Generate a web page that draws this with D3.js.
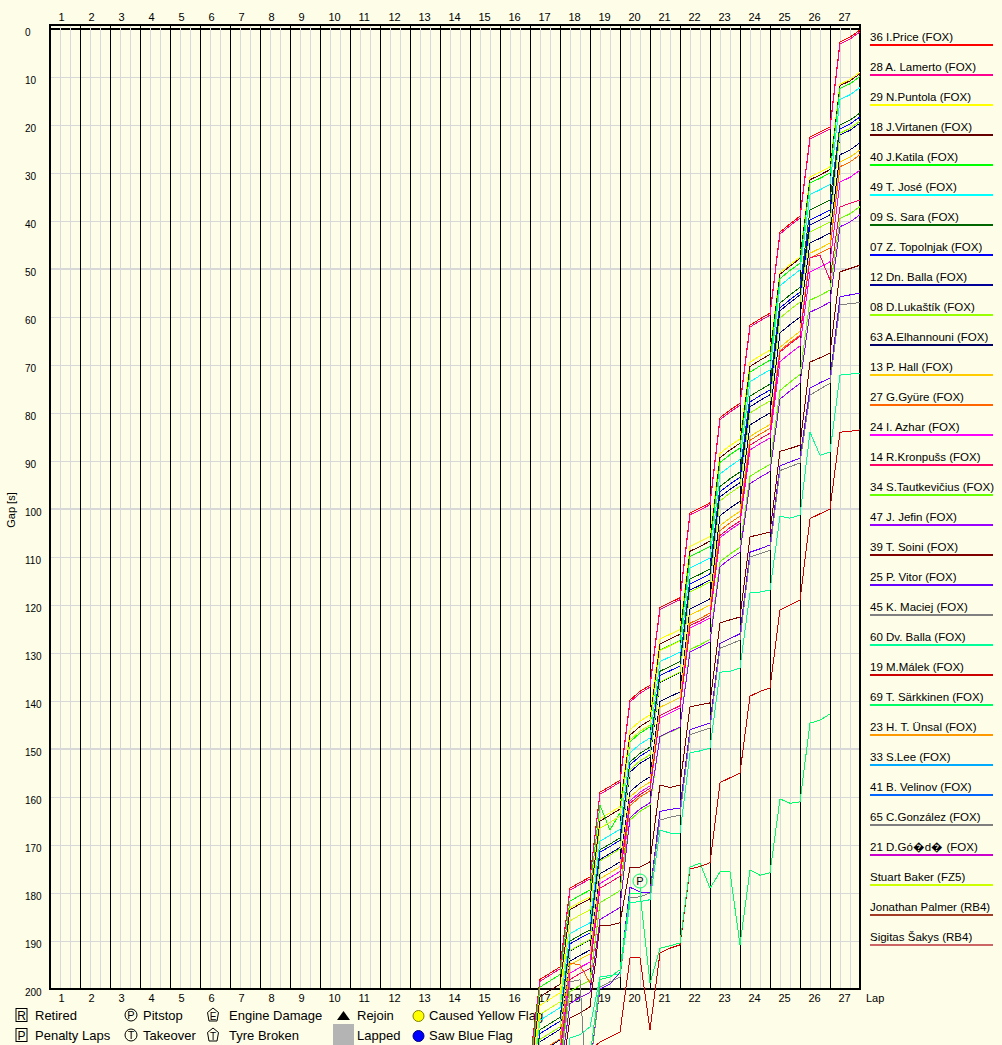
<!DOCTYPE html>
<html><head><meta charset="utf-8">
<script src="https://cdn.jsdelivr.net/npm/d3@7"></script>
<style>
html,body{margin:0;padding:0;background:#fefee8;}
svg{display:block;}
text{font-family:"Liberation Sans",Arial,sans-serif;fill:#000;}
</style></head><body>
<svg id="chart" width="1002" height="1045"></svg>
<script>
// ---------- tick labels ----------
const lapNumbers = [1,2,3,4,5,6,7,8,9,10,11,12,13,14,15,16,17,18,19,20,21,22,23,24,25,26,27];
const gapTicks = [0,10,20,30,40,50,60,70,80,90,100,110,120,130,140,150,160,170,180,190,200];

// ---------- drivers ----------
const driverNames = [
  "36 I.Price (FOX)","28 A. Lamerto (FOX)","29 N.Puntola (FOX)","18 J.Virtanen (FOX)","40 J.Katila (FOX)",
  "49 T. José (FOX)","09 S. Sara (FOX)","07 Z. Topolnjak (FOX)","12 Dn. Balla (FOX)","08 D.Lukaštík (FOX)",
  "63 A.Elhannouni (FOX)","13 P. Hall (FOX)","27 G.Gyüre (FOX)","24 I. Azhar (FOX)","14 R.Kronpušs (FOX)",
  "34 S.Tautkevičius (FOX)","47 J. Jefin (FOX)","39 T. Soini (FOX)","25 P. Vitor (FOX)","45 K. Maciej (FOX)",
  "60 Dv. Balla (FOX)","19 M.Málek (FOX)","69 T. Särkkinen (FOX)","23 H. T. Ünsal (FOX)","33 S.Lee (FOX)",
  "41 B. Velinov (FOX)","65 C.González (FOX)","21 D.Gó\uFFFDd\uFFFD (FOX)","Stuart Baker (FZ5)","Jonathan Palmer (RB4)",
  "Sigitas Šakys (RB4)"
];
const driverColors = [
  "#ff0000","#ff0090","#ffff00","#660000","#00ff00",
  "#00ffff","#006600","#0000ff","#000099","#99ff00",
  "#000066","#ffcc00","#ff6600","#ff00ff","#ff0066",
  "#66ff00","#9900ff","#800000","#6600ff","#808080",
  "#00ff99","#cc0000","#00ff66","#ff9900","#00aaff",
  "#0066ff","#7f7f7f","#cc00cc","#ccff00","#a33c24",
  "#cc6666"
];
// sector index (3 per lap) of the first value of each series
const firstSector = [48,48,48,48,48, 48,48,48,48,48, 48,48,48,48,48, 48,48,48,54,54, 48,54,54,39,39, 36,48,33,48,30, 27];

// ---------- gap values [s] at each sector ----------
const gPrice = [215.0,198.0,196.7,195.4,179.0,177.8,176.7,159.0,157.8,156.5,139.8,138.0,136.7,120.5,119.5,118.5,100.8,99.8,98.7,81.0,79.4,78.0,61.7,60.4,59.2,42.3,40.6,39.0,22.5,21.5,20.4,2.7,1.7,0.2];
const gLamerto = [215.4,198.4,197.1,195.8,179.4,178.2,177.1,159.4,158.2,156.9,140.2,138.4,137.1,120.9,119.9,118.9,101.2,100.2,99.1,81.4,79.8,78.4,62.1,60.8,59.6,42.7,41.0,39.4,22.9,21.9,20.8,3.1,2.1,0.6];
const gPuntola = [219.5,203.4,202.1,200.8,183.1,181.9,180.8,164.5,163.3,162.0,146.0,144.2,142.9,127.1,126.1,125.1,107.8,106.8,105.7,88.4,86.8,85.4,69.4,68.1,66.9,50.8,49.1,47.5,30.8,29.8,28.7,11.5,10.5,9.0];
const gVirtanen = [218.5,201.6,200.3,199.0,183.5,182.3,181.2,165.0,163.8,162.5,147.1,145.3,144.0,128.1,127.1,126.1,108.8,107.8,106.7,89.3,87.7,86.3,70.3,69.0,67.8,51.1,49.4,47.8,31.4,30.4,29.3,11.8,10.8,9.3];
const gKatila = [217.0,199.6,198.3,197.0,181.7,180.5,179.4,161.7,166.9,163.3,148.5,146.7,145.4,129.4,128.4,127.4,109.9,108.9,107.8,90.3,88.7,87.3,71.5,70.2,69.0,52.0,50.3,48.8,32.1,31.1,30.0,12.4,11.4,9.9];
const gJose = [223.0,206.5,205.2,203.9,188.5,187.3,186.2,169.2,168.0,166.7,150.8,149.0,147.7,131.8,130.8,129.8,112.3,111.3,110.2,92.7,91.1,89.7,73.5,72.2,71.0,53.5,51.8,50.2,34.5,33.5,32.4,14.7,13.7,12.2];
const gSara = [225.0,208.5,207.2,205.9,190.0,188.8,187.7,171.0,169.8,168.5,152.7,150.9,149.6,133.8,132.8,131.8,114.6,113.6,112.5,95.3,93.7,92.3,76.5,75.2,74.0,57.1,55.4,53.8,37.7,36.7,35.6,20.0,19.0,17.5];
const gTopolnjak = [226.0,209.3,208.0,206.7,190.6,189.4,188.3,171.5,170.3,169.0,153.3,151.5,150.2,134.7,133.7,132.7,115.6,114.6,113.5,96.4,94.8,93.4,77.7,76.4,75.2,58.1,56.4,54.8,39.8,38.8,37.7,20.8,19.8,18.3];
const gBalla = [227.5,211.0,209.7,208.4,192.1,190.9,189.8,173.0,171.8,170.5,154.8,153.0,151.7,136.1,135.1,134.1,116.9,115.9,114.8,97.5,95.9,94.5,78.7,77.4,76.2,58.7,57.0,55.4,40.8,39.8,38.7,22.1,21.1,19.6];
const gLukastik = [227.0,210.5,209.2,207.9,192.0,190.8,189.7,173.3,172.1,170.8,154.3,152.5,151.2,136.0,135.0,134.0,117.3,116.3,115.2,98.3,96.7,95.3,80.0,78.7,77.5,60.2,58.5,56.9,42.3,41.3,40.2,21.7,20.7,19.2];
const gElhannouni = [230.0,213.2,211.9,210.6,194.2,193.0,191.9,176.0,174.8,173.5,158.9,157.1,155.8,140.1,139.1,138.1,120.8,119.8,118.7,101.4,99.8,98.4,82.5,81.2,80.0,63.3,61.6,60.0,44.6,43.6,42.5,26.2,25.2,23.7];
const gHall = [231.0,214.3,213.0,211.7,195.0,193.8,192.7,177.0,175.8,174.5,160.0,158.2,156.9,141.3,140.3,139.3,122.1,121.1,120.0,103.5,101.9,100.5,84.9,83.6,82.4,66.3,64.6,63.0,46.7,45.7,44.6,27.7,26.7,25.2];
const gGyure = [229.0,213.0,211.7,210.4,194.6,195.0,198.8,182.0,180.8,179.5,161.8,160.0,158.7,143.0,142.0,141.0,123.8,122.8,121.7,104.5,102.9,101.5,85.7,84.4,83.2,67.0,65.3,63.8,47.7,46.7,45.6,28.7,27.7,26.2];
const gAzhar = [231.0,215.5,214.2,212.9,196.7,195.5,194.4,178.0,176.8,175.5,160.8,159.0,157.7,143.5,142.5,141.5,124.8,123.8,122.7,106.0,104.4,103.0,87.7,86.4,85.2,69.3,67.6,66.0,50.6,49.6,48.5,31.9,30.9,29.4];
const gKronpuss = [233.0,216.0,214.7,213.4,198.0,196.8,195.7,179.0,177.8,176.5,161.3,159.5,158.2,143.0,142.0,141.0,124.3,123.3,122.2,105.5,103.9,102.5,86.7,85.4,84.2,67.3,65.6,64.0,47.7,47.1,52.3,37.1,36.3,35.6];
const gTautkevicius = [235.0,219.0,217.7,216.4,200.5,199.3,198.2,182.0,180.8,179.5,164.8,163.0,161.7,147.5,146.5,145.5,129.3,128.3,127.2,111.0,109.4,108.0,93.2,91.9,90.7,75.3,73.6,72.0,56.5,55.5,54.4,39.5,38.5,37.0];
const gJefin = [237.0,221.0,219.7,218.4,203.0,201.8,200.7,185.5,184.3,183.0,164.3,162.5,161.2,147.4,146.4,145.4,129.8,128.8,127.7,112.0,110.4,109.0,94.7,93.4,92.2,77.1,75.4,73.8,59.0,58.0,56.9,41.2,40.2,38.7];
const gSoini = [240.0,223.0,222.0,221.0,206.0,205.0,203.7,186.7,186.7,186.2,174.6,174.6,173.5,157.5,158.0,157.5,141.2,140.8,140.4,123.7,123.1,122.5,105.8,105.3,104.8,88.0,87.4,86.7,69.4,68.5,67.5,50.6,49.9,49.2];
const gVitor = [216.0,200.0,199.0,196.5,178.8,179.8,179.8,163.0,162.6,162.3,146.0,145.3,144.6,128.0,127.0,126.0,109.0,108.3,107.5,91.0,90.2,89.4,74.8,73.7,72.7,55.8,55.4,55.0];
const gMaciej = [216.5,199.6,198.5,197.5,181.0,180.8,180.0,164.8,164.2,163.8,147.0,146.3,145.6,129.0,128.2,127.3,110.0,109.3,108.6,92.0,91.2,90.4,76.3,75.0,73.8,57.5,57.2,57.0];
const gDvBalla = [245.0,228.0,227.0,226.0,210.2,209.5,207.9,197.5,197.2,196.8,182.0,181.8,181.4,166.9,167.5,167.5,150.8,150.4,149.8,134.0,133.8,133.1,117.5,117.3,116.9,101.5,101.9,101.3,84.0,88.8,88.1,72.1,71.9,71.7];
const gMalek = [213.0,211.0,210.0,209.0,193.5,193.5,208.5,192.5,191.5,190.8,175.0,174.5,173.7,157.0,156.0,155.0,139.0,138.0,137.3,121.0,120.0,119.0,102.0,101.0,100.0,84.0,83.8,83.5];
const gSarkkinen = [214.0,198.0,197.5,196.0,180.2,180.0,198.8,191.5,191.0,190.4,174.6,173.8,179.0,175.6,175.6,190.8,175.2,176.3,175.8,160.4,161.3,161.0,144.6,144.0,142.7];
const gUnsal = [292.0,275.0,274.0,273.0];
const gLee = [296.0,279.0,278.0,277.0];
const gVelinov = [300.0,283.0,282.0,281.0];
const gGonzalez = [236.0,219.0,217.0,215.5,198.5,198.1,235.0];
const gGozdz = [305.0,288.0,287.0,286.0];
const gBaker = [222.0,205.3,204.0,202.7,185.8,184.6,183.5,166.5,165.3,164.0,148.1,146.3,145.0,129.5,128.5,127.5];
const gPalmer = [320.0,303.0,302.0,301.0];
const gSakys = [330.0,313.0,312.0,311.0];

const gapSeries = [gPrice,gLamerto,gPuntola,gVirtanen,gKatila,gJose,gSara,gTopolnjak,gBalla,gLukastik,
  gElhannouni,gHall,gGyure,gAzhar,gKronpuss,gTautkevicius,gJefin,gSoini,gVitor,gMaciej,
  gDvBalla,gMalek,gSarkkinen,gUnsal,gLee,gVelinov,gGonzalez,gGozdz,gBaker,gPalmer,gSakys];

// events: driver index and sector index of each pitstop
const pitDrivers = [22];
const pitSectors = [59];

// bottom legend
const keyLabelsRow1 = ["Retired","Pitstop","Engine Damage","Rejoin","Caused Yellow Flag"];
const keyLabelsRow2 = ["Penalty Laps","Takeover","Tyre Broken","Lapped","Saw Blue Flag"];

// ---------- drawing ----------
const W = 1002, H = 1045;
const svg = d3.select("#chart");
const x = d3.scaleLinear().domain([0, 81]).range([50, 860]);
const y = d3.scaleLinear().domain([0, 200]).range([29, 989]);

svg.append("rect").attr("width", W).attr("height", H).attr("fill", "#fefee8");

const grid = svg.append("g");
grid.append("line").attr("x1", 50).attr("x2", 860).attr("y1", y(0)).attr("y2", y(0))
  .attr("stroke", "#000").attr("stroke-width", 2);
gapTicks.filter(t => t > 0 && t < 200).forEach(t => {
  const thick = t % 50 === 0;
  const yy = thick ? y(t) : Math.round(y(t)) + 0.5;
  grid.append("line").attr("x1", 51).attr("x2", 860).attr("y1", yy).attr("y2", yy)
    .attr("stroke", "#d8d8d8").attr("stroke-width", thick ? 2 : 1);
});
d3.range(1, 81).filter(i => i % 3 !== 0).forEach(i => {
  grid.append("line").attr("x1", x(i) + 0.5).attr("x2", x(i) + 0.5).attr("y1", 26).attr("y2", 989)
    .attr("stroke", "#d8d8d8").attr("stroke-width", 1);
});
d3.range(3, 81, 3).forEach(i => {
  grid.append("line").attr("x1", x(i) + 0.5).attr("x2", x(i) + 0.5).attr("y1", 25).attr("y2", 989)
    .attr("stroke", "#000").attr("stroke-width", 1);
});
grid.append("line").attr("x1", 50).attr("x2", 50).attr("y1", 24).attr("y2", 990).attr("stroke", "#000").attr("stroke-width", 2);
grid.append("line").attr("x1", 860).attr("x2", 860).attr("y1", 24).attr("y2", 990).attr("stroke", "#000").attr("stroke-width", 2);
grid.append("line").attr("x1", 49).attr("x2", 861).attr("y1", 25).attr("y2", 25).attr("stroke", "#000").attr("stroke-width", 2);
grid.append("line").attr("x1", 49).attr("x2", 861).attr("y1", 989).attr("y2", 989).attr("stroke", "#000").attr("stroke-width", 2);

// axes
const lapTickVals = lapNumbers.map(l => 3 * (l - 1));
function styleLapAxis(g) {
  g.select(".domain").remove();
  g.selectAll("text").attr("text-anchor", "start").attr("x", 8).attr("y", 0).attr("dy", null)
    .attr("font-family", "Liberation Sans, Arial, sans-serif").attr("font-size", 11).attr("fill", "#000");
}
svg.append("g").attr("transform", "translate(0,21)")
  .call(d3.axisTop(x).tickValues(lapTickVals).tickSize(0).tickFormat((d, i) => lapNumbers[i]))
  .call(styleLapAxis);
svg.append("g").attr("transform", "translate(0,1002)")
  .call(d3.axisBottom(x).tickValues(lapTickVals).tickSize(0).tickFormat((d, i) => lapNumbers[i]))
  .call(styleLapAxis);
svg.append("g").attr("transform", "translate(25,0)")
  .call(d3.axisLeft(y).tickValues(gapTicks).tickSize(0))
  .call(g => {
    g.select(".domain").remove();
    g.selectAll("text").attr("text-anchor", "start").attr("x", 0).attr("dy", null).attr("y", 6)
      .attr("font-family", "Liberation Sans, Arial, sans-serif").attr("font-size", 10).attr("fill", "#000");
  });
svg.append("text").attr("transform", "translate(15,510) rotate(-90)").attr("text-anchor", "middle")
  .attr("font-size", 11).text("Gap [s]");
svg.append("text").attr("x", 866).attr("y", 1002).attr("font-size", 11).text("Lap");

// right legend
const leg = svg.append("g");
driverNames.forEach((n, k) => {
  leg.append("text").attr("x", 870).attr("y", 40.5 + 30 * k).attr("font-size", 11.5).text(n);
  leg.append("line").attr("x1", 870).attr("x2", 993).attr("y1", 45 + 30 * k).attr("y2", 45 + 30 * k)
    .attr("stroke", driverColors[k]).attr("stroke-width", 2);
});

// bottom key
const key = svg.append("g");
const r1 = 1015, r2 = 1035;
function boxLetter(cx, cy, t) {
  key.append("rect").attr("x", cx - 5.5).attr("y", cy - 6.5).attr("width", 11).attr("height", 13)
    .attr("fill", "none").attr("stroke", "#000").attr("stroke-width", 1);
  key.append("text").attr("x", cx).attr("y", cy + 4.5).attr("text-anchor", "middle").attr("font-size", 12).text(t);
}
function circleLetter(cx, cy, t) {
  key.append("circle").attr("cx", cx).attr("cy", cy).attr("r", 6).attr("fill", "none").attr("stroke", "#000");
  key.append("text").attr("x", cx).attr("y", cy + 4).attr("text-anchor", "middle").attr("font-size", 11).text(t);
}
function pentLetter(cx, cy, t) {
  const p = d3.path();
  p.moveTo(cx, cy - 7); p.lineTo(cx + 5.5, cy - 2.5); p.lineTo(cx + 4, cy + 6); p.lineTo(cx - 4, cy + 6); p.lineTo(cx - 5.5, cy - 2.5); p.closePath();
  key.append("path").attr("d", p.toString()).attr("fill", "none").attr("stroke", "#000");
  key.append("text").attr("x", cx).attr("y", cy + 4.5).attr("text-anchor", "middle").attr("font-size", 10).text(t);
}
boxLetter(21.5, r1, "R"); boxLetter(21.5, r2, "P");
circleLetter(131, r1, "P"); circleLetter(131, r2, "T");
pentLetter(213, r1, "E"); pentLetter(213, r2, "T");
key.append("path").attr("d", `M${337},${r1 + 5}L${350},${r1 + 5}L${343.5},${r1 - 4}Z`).attr("fill", "#000");
key.append("rect").attr("x", 333).attr("y", 1024).attr("width", 21).attr("height", 21).attr("fill", "#b4b4b4");
key.append("circle").attr("cx", 418.5).attr("cy", r1 + 1).attr("r", 5.5).attr("fill", "#ffff00").attr("stroke", "#808000");
key.append("circle").attr("cx", 418.5).attr("cy", r2 + 1).attr("r", 5.5).attr("fill", "#0000ff").attr("stroke", "#000080");
const keyX = [35, 143, 229, 357, 429];
keyLabelsRow1.forEach((t, i) => key.append("text").attr("x", keyX[i]).attr("y", r1 + 5).attr("font-size", 13).text(t));
keyLabelsRow2.forEach((t, i) => key.append("text").attr("x", keyX[i]).attr("y", r2 + 5).attr("font-size", 13).text(t));

// series
const lineGen = d3.line().x(d => x(d[0])).y(d => y(d[1]));
const lines = svg.append("g");
gapSeries.forEach((vals, k) => {
  const pts = vals.map((v, j) => [firstSector[k] + j, v]);
  lines.append("path").attr("d", lineGen(pts)).attr("fill", "none")
    .attr("stroke", driverColors[k]).attr("stroke-width", 1).attr("shape-rendering", "crispEdges");
});

// pitstop markers
pitDrivers.forEach((d, m) => {
  const s = pitSectors[m];
  const v = gapSeries[d][s - firstSector[d]];
  const px = x(s), py = y(v);
  const c = driverColors[d];
  lines.append("line").attr("x1", px + 0.5).attr("x2", px + 0.5).attr("y1", py - 5).attr("y2", py).attr("stroke", c);
  lines.append("circle").attr("cx", px).attr("cy", py - 12).attr("r", 7).attr("fill", "none").attr("stroke", c);
  lines.append("text").attr("x", px).attr("y", py - 8).attr("text-anchor", "middle").attr("font-size", 11).attr("fill", c).text("P");
});
</script>
</body></html>
